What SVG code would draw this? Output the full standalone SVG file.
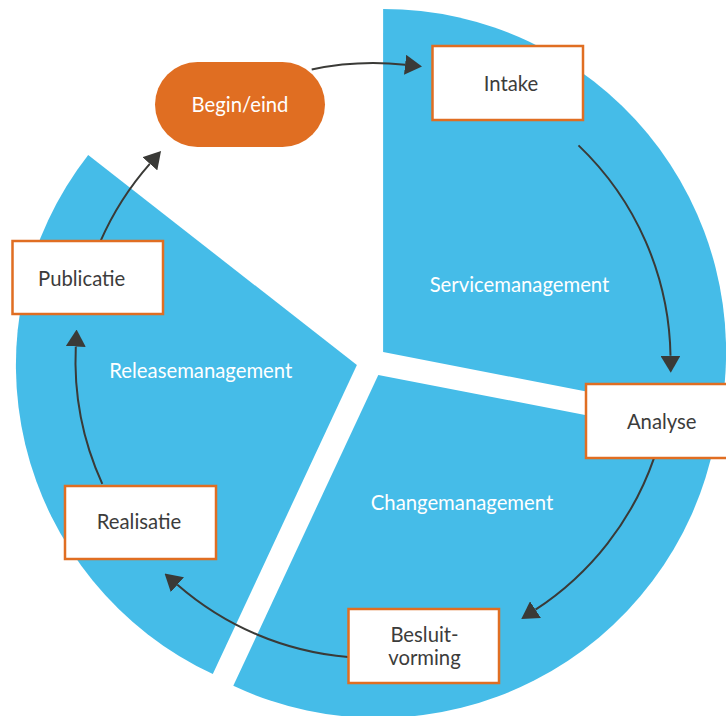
<svg xmlns="http://www.w3.org/2000/svg" width="726" height="716" viewBox="0 0 726 716">
  <defs>
    <style>
      .sector { fill: #45bce8; }
      .box { fill: #ffffff; stroke: #e06e22; stroke-width: 2.5; }
      .pill { fill: #e06e22; }
      .label { font-family: Lato, "Open Sans", sans-serif; font-size: 20.3px; fill: #ffffff; text-anchor: middle; }
      .step { font-family: Lato, "Open Sans", sans-serif; font-size: 20.3px; fill: #3c3c3b; text-anchor: middle; }
      .flow { fill: none; stroke: #3a3a37; stroke-width: 2; }
    </style>
    <marker id="head" markerUnits="userSpaceOnUse" viewBox="0 -10 17 20" refX="0" refY="0" markerWidth="17" markerHeight="20" orient="auto">
      <path d="M0,-10 L17,0 L0,10 Z" fill="#3a3a37"/>
    </marker>
  </defs>

  <!-- exploded pie: three process areas -->
  <g id="sectors">
    <path id="sector-service" class="sector" d="M383.1,352 L383.1,9 A343,343 0 0 1 719.8,417.4 Z"/>
    <path id="sector-change" class="sector" d="M378.3,374.9 L715,440.3 A343,343 0 0 1 233.3,685.8 Z"/>
    <path id="sector-release" class="sector" d="M356.9,365 L212.8,674.1 A341,341 0 0 1 88.2,155.1 Z"/>
    <text class="label" x="519.5" y="291.5">Servicemanagement</text>
    <text class="label" x="462" y="510">Changemanagement</text>
    <text class="label" x="200.8" y="378.3">Releasemanagement</text>
  </g>

  <!-- cycle arrows along a common circle -->
  <g id="connectors">
    <path class="flow" marker-end="url(#head)" d="M311.7,69.4 A297.5,297.5 0 0 1 405.1,64.7"/>
    <path class="flow" marker-end="url(#head)" d="M578.5,145.4 A297.5,297.5 0 0 1 670.5,355.8"/>
    <path class="flow" marker-end="url(#head)" d="M654.1,457.8 A297.5,297.5 0 0 1 535.5,609.7"/>
    <path class="flow" marker-end="url(#head)" d="M348.1,657 A297.5,297.5 0 0 1 177.4,584.7"/>
    <path class="flow" marker-end="url(#head)" d="M102.3,483.9 A297.5,297.5 0 0 1 75.8,346.5"/>
    <path class="flow" marker-end="url(#head)" d="M100.6,240.9 A297.5,297.5 0 0 1 149.8,163.8"/>
  </g>

  <g id="begin-eind">
    <rect class="pill" x="155" y="62" width="170" height="85" rx="42.5"/>
    <text class="label" x="240" y="112">Begin/eind</text>
  </g>
  <g id="intake">
    <rect class="box" x="432.5" y="46" width="150.5" height="74"/>
    <text class="step" x="511" y="91">Intake</text>
  </g>
  <g id="analyse">
    <rect class="box" x="586" y="384" width="152" height="74"/>
    <text class="step" x="661.7" y="429">Analyse</text>
  </g>
  <g id="besluitvorming">
    <rect class="box" x="348.5" y="609" width="150.5" height="74"/>
    <text class="step" x="424.5" y="642.3">Besluit-</text>
    <text class="step" x="424.5" y="665">vorming</text>
  </g>
  <g id="realisatie">
    <rect class="box" x="65" y="486" width="151" height="73"/>
    <text class="step" x="139" y="529">Realisatie</text>
  </g>
  <g id="publicatie">
    <rect class="box" x="12.5" y="241" width="150.5" height="73"/>
    <text class="step" x="81.7" y="286">Publicatie</text>
  </g>
</svg>
